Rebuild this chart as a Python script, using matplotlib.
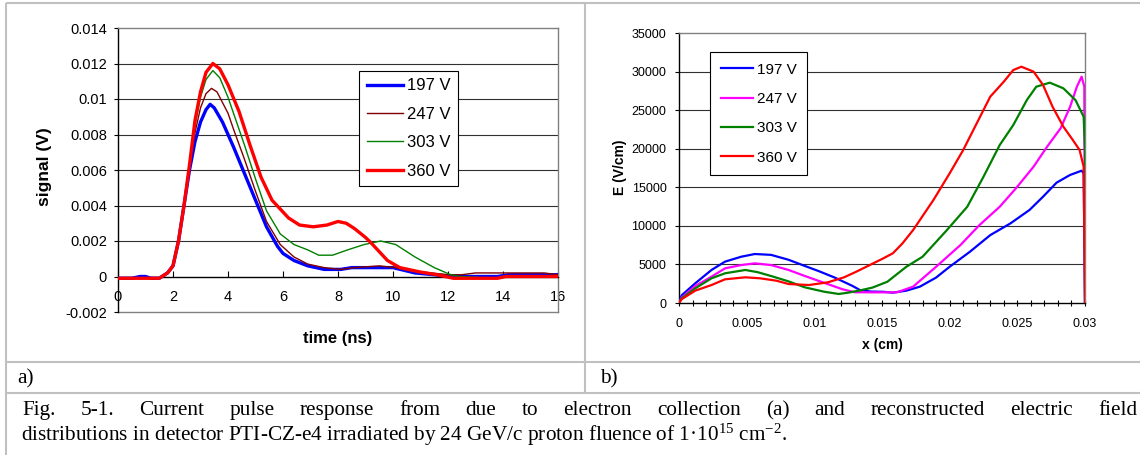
import matplotlib
matplotlib.use("Agg")
import matplotlib.pyplot as plt

plt.rcParams['font.family'] = ['Liberation Sans', 'DejaVu Sans']
plt.rcParams['mathtext.default'] = 'regular'

# ---------------- (a) current pulse response ----------------
series_a = ["197 V", "247 V", "303 V", "360 V"]

t_197 = [0, 0.5, 0.8, 1.0, 1.2, 1.5, 1.8, 2.0, 2.2, 2.4, 2.6, 2.8, 3.0, 3.2, 3.35,
         3.5, 3.8, 4.2, 4.6, 5.0, 5.4, 5.8, 6.0, 6.4, 6.9, 7.5, 8.1, 8.5, 9.5, 10.0,
         10.8, 11.5, 12.2, 13.8, 14.2, 16]
s_197 = [-0.0001, -0.0001, 0.0, 0.0, -0.0001, -0.0001, 0.0002, 0.0006, 0.0020, 0.0040,
         0.0060, 0.0076, 0.0087, 0.0094, 0.0097, 0.0095, 0.0087, 0.0073, 0.0058, 0.0043,
         0.0028, 0.0017, 0.0013, 0.0009, 0.0006, 0.0004, 0.0004, 0.0005, 0.0005, 0.0005,
         0.0002, 0.0001, 0.0, 0.0, 0.0001, 0.0001]

t_247 = [0, 1.5, 1.8, 2.0, 2.2, 2.4, 2.6, 2.8, 3.0, 3.2, 3.4, 3.6, 4.0, 4.2, 4.6, 5.0,
         5.4, 5.9, 6.4, 6.9, 7.5, 8.1, 8.6, 9.5, 10.1, 10.8, 11.4, 12.0, 12.5, 13.0,
         15.5, 16]
s_247 = [-0.0001, -0.0001, 0.0002, 0.0006, 0.0020, 0.0040, 0.0061, 0.0081, 0.0095, 0.0103,
         0.0106, 0.0104, 0.0092, 0.0083, 0.0066, 0.0048, 0.0031, 0.0018, 0.0011, 0.0007,
         0.0005, 0.0004, 0.0005, 0.0006, 0.0005, 0.0003, 0.0002, 0.0001, 0.0001, 0.0002,
         0.0002, 0.0001]

t_303 = [0, 1.5, 1.8, 2.0, 2.2, 2.4, 2.6, 2.8, 3.0, 3.2, 3.45, 3.7, 4.0, 4.2, 4.6, 5.0,
         5.4, 5.9, 6.4, 6.9, 7.3, 7.8, 8.35, 8.95, 9.55, 10.1, 10.8, 11.5, 12.1, 12.4,
         13.8, 14.1, 16]
s_303 = [-0.0001, -0.0001, 0.0002, 0.0006, 0.0020, 0.0040, 0.0062, 0.0085, 0.0101, 0.0111,
         0.0116, 0.0112, 0.0101, 0.0092, 0.0074, 0.0055, 0.0037, 0.0024, 0.0018, 0.0015,
         0.0012, 0.0012, 0.0015, 0.0018, 0.0020, 0.0018, 0.0011, 0.0005, 0.0001, 0.0,
         -0.0001, 0.0, 0.0]

t_360 = [0, 1.5, 1.8, 2.0, 2.2, 2.4, 2.6, 2.8, 3.0, 3.2, 3.45, 3.7, 4.0, 4.4, 4.8, 5.2,
         5.6, 5.9, 6.2, 6.6, 7.1, 7.6, 8.0, 8.3, 8.6, 9.0, 9.2, 9.5, 9.8, 10.25, 11.0,
         11.6, 12.2, 13.8, 14.1, 16]
s_360 = [-0.0001, -0.0001, 0.0002, 0.0006, 0.0020, 0.0040, 0.0063, 0.0088, 0.0104, 0.0115,
         0.0120, 0.0117, 0.0108, 0.0093, 0.0074, 0.0056, 0.0043, 0.0038, 0.0033, 0.0029,
         0.0028, 0.0029, 0.0031, 0.0030, 0.0027, 0.0022, 0.0019, 0.0014, 0.0009, 0.0005,
         0.00025, 0.0001, -0.0001, -0.0001, 0.0, 0.0]

a_xticks = [0, 2, 4, 6, 8, 10, 12, 14, 16]
a_yticks = [-0.002, 0, 0.002, 0.004, 0.006, 0.008, 0.01, 0.012, 0.014]
a_yticklabels = ["-0.002", "0", "0.002", "0.004", "0.006", "0.008", "0.01", "0.012", "0.014"]

# ---------------- (b) reconstructed electric field ----------------
series_b = ["197 V", "247 V", "303 V", "360 V"]

x_197 = [0, 0.0002, 0.0012, 0.0024, 0.0034, 0.0046, 0.0056, 0.0068, 0.0081, 0.0093,
         0.0103, 0.0115, 0.0128, 0.0134, 0.0142, 0.0151, 0.0158, 0.0168, 0.0178, 0.019,
         0.020, 0.0215, 0.023, 0.0245, 0.0259, 0.0269, 0.0279, 0.0289, 0.02975, 0.0299, 0.03]
e_197 = [0, 1000, 2550, 4280, 5360, 6000, 6350, 6240, 5600, 4800,
         4150, 3300, 2230, 1650, 1480, 1450, 1340, 1600, 2120, 3300,
         4700, 6650, 8800, 10330, 12060, 13780, 15600, 16600, 17150, 16800, 0]

x_247 = [0, 0.0002, 0.0012, 0.0024, 0.0034, 0.0046, 0.0056, 0.0068, 0.0081, 0.0093,
         0.0107, 0.0121, 0.013, 0.0145, 0.0161, 0.0173, 0.019, 0.0208, 0.0222, 0.0237,
         0.0249, 0.0262, 0.0272, 0.0282, 0.0289, 0.0294, 0.02975, 0.02995, 0.03]
e_247 = [0, 700, 2200, 3410, 4490, 4920, 5140, 4920, 4280, 3500,
         2630, 1770, 1390, 1380, 1380, 2120, 4700, 7520, 10100, 12480,
         14870, 17670, 20260, 22650, 25450, 28040, 29340, 28040, 0]

x_303 = [0, 0.0002, 0.0012, 0.0024, 0.0034, 0.0049, 0.0058, 0.0068, 0.0081, 0.0093,
         0.0107, 0.0118, 0.0125, 0.0134, 0.0143, 0.0154, 0.0168, 0.018, 0.0198, 0.0213,
         0.0225, 0.0237, 0.0247, 0.0257, 0.0264, 0.0274, 0.0284, 0.0293, 0.0299, 0.03, 0.03]
e_303 = [0, 600, 1900, 3200, 3850, 4280, 4000, 3500, 2800, 2030,
         1470, 1170, 1340, 1640, 2000, 2760, 4700, 6000, 9460, 12480,
         16370, 20480, 23070, 26300, 28040, 28560, 27830, 26300, 24150, 19830, 0]

x_360 = [0, 0.0002, 0.0012, 0.0024, 0.0034, 0.0049, 0.006, 0.0072, 0.0081, 0.0096,
         0.011, 0.0122, 0.0131, 0.0143, 0.0150, 0.0158, 0.0165, 0.0173, 0.0188, 0.020,
         0.021, 0.022, 0.023, 0.024, 0.0247, 0.0253, 0.0262, 0.0269, 0.0276, 0.0284,
         0.0291, 0.0296, 0.0299, 0.03]
e_360 = [0, 500, 1600, 2330, 3070, 3330, 3200, 2890, 2460, 2330,
         2680, 3330, 4060, 5100, 5700, 6440, 7700, 9460, 13350, 16810,
         19830, 23290, 26750, 28690, 30200, 30630, 29990, 28260, 25450, 22860,
         21130, 19830, 17670, 0]

b_xticks = [0, 0.005, 0.01, 0.015, 0.02, 0.025, 0.03]
b_xticklabels = ["0", "0.005", "0.01", "0.015", "0.02", "0.025", "0.03"]
b_yticks = [0, 5000, 10000, 15000, 20000, 25000, 30000, 35000]

caption_1 = ("Fig. 5-1. Current pulse response from due to electron collection (a) "
             "and reconstructed electric field")
caption_2 = ("distributions in detector PTI-CZ-e4 irradiated by 24 GeV/c proton "
             "fluence of 1·10$^{15}$ cm$^{-2}$.")

W, H = 1140, 455
fig = plt.figure(figsize=(W / 100, H / 100), dpi=100)

# page layer in pixel coordinates: table rules and caption
page = fig.add_axes([0, 0, 1, 1], zorder=-5)
page.set_xlim(0, W)
page.set_ylim(H, 0)
page.axis('off')
rule = dict(color='#c0c0c0', lw=1.5, solid_capstyle='butt')
page.plot([6, W], [3, 3], **rule)
page.plot([6, 6], [3, H], **rule)
page.plot([585, 585], [3, 393], **rule)
page.plot([6, W], [362, 362], **rule)
page.plot([6, W], [393, 393], **rule)

serif = dict(family=['Liberation Serif', 'DejaVu Serif'], fontsize=15.3, color='black')
page.text(17, 383, "a)", ha='left', va='baseline', **serif)
page.text(600, 383, "b)", ha='left', va='baseline', **serif)


def fig_rect(x0, y0, x1, y1):
    return [x0 / W, 1 - y1 / H, (x1 - x0) / W, (y1 - y0) / H]


# ---------- panel (a) ----------
axa = fig.add_axes(fig_rect(118, 28, 558, 312))
colors_a = ['#0000ff', '#800000', '#008000', '#ff0000']
widths_a = [2.4, 1.0, 1.0, 2.4]
for t, s, c, lw, lab in zip([t_197, t_247, t_303, t_360],
                            [s_197, s_247, s_303, s_360],
                            colors_a, widths_a, series_a):
    axa.plot(t, s, color=c, lw=lw, label=lab, solid_joinstyle='round', zorder=3)

axa.set_xlim(0, 16)
axa.set_ylim(-0.002, 0.014)
axa.set_xticks(a_xticks)
axa.set_xticklabels([str(v) for v in a_xticks])
axa.set_yticks(a_yticks)
axa.set_yticklabels(a_yticklabels)
for v in a_yticks[2:-1]:
    axa.axhline(v, color='#303030', lw=0.8, zorder=1)
axa.spines['bottom'].set_position(('data', 0))
axa.spines['bottom'].set_color('black')
axa.spines['left'].set_color('black')
axa.spines['top'].set_color('#808080')
axa.spines['right'].set_color('#808080')
for sp in axa.spines.values():
    sp.set_linewidth(1.0)
axa.plot([0, 1], [0, 0], transform=axa.transAxes, color='#808080', lw=1.0, clip_on=False)
axa.tick_params(axis='x', direction='in', length=4, width=0.8, pad=10, labelsize=10.5)
axa.tick_params(axis='y', direction='out', length=3, width=0.8, pad=5, labelsize=10.5)
axa.set_xlabel("time (ns)", fontsize=12, fontweight='bold')
axa.xaxis.label.set_verticalalignment('center')
axa.xaxis.set_label_coords(0.5, (312 - 338) / 284)
axa.set_ylabel("signal (V)", fontsize=12.5, fontweight='bold')
axa.yaxis.label.set_verticalalignment('center')
axa.yaxis.set_label_coords((45 - 118) / 440, (312 - 167) / 284)
lega = axa.legend(loc='upper left', bbox_to_anchor=(359 / W, 1 - 71 / H),
                  bbox_transform=fig.transFigure, borderaxespad=0, fancybox=False,
                  edgecolor='black', framealpha=1, fontsize=12, handlelength=2.2,
                  handletextpad=0.25, labelspacing=0.8, borderpad=0.45)
lega.get_frame().set_linewidth(0.8)

# ---------- panel (b) ----------
axb = fig.add_axes(fig_rect(679, 33, 1085, 303))
colors_b = ['#0000ff', '#ff00ff', '#008000', '#ff0000']
for x, e, c, lab in zip([x_197, x_247, x_303, x_360],
                        [e_197, e_247, e_303, e_360], colors_b, series_b):
    axb.plot(x, e, color=c, lw=1.6, label=lab, solid_joinstyle='round', zorder=3)

axb.set_xlim(0, 0.03)
axb.set_ylim(0, 35000)
axb.set_xticks(b_xticks)
axb.set_xticklabels(b_xticklabels)
axb.set_xticks([i * 0.001 for i in range(31)], minor=True)
axb.set_yticks(b_yticks)
axb.set_yticklabels([str(v) for v in b_yticks])
for v in b_yticks[1:-1]:
    axb.axhline(v, color='#303030', lw=0.8, zorder=1)
axb.spines['bottom'].set_color('black')
axb.spines['left'].set_color('black')
axb.spines['top'].set_color('#808080')
axb.spines['right'].set_color('#808080')
for sp in axb.spines.values():
    sp.set_linewidth(1.0)
axb.tick_params(axis='x', which='both', direction='inout', length=5, width=0.8,
                pad=8, labelsize=9)
axb.tick_params(axis='y', direction='out', length=3, width=0.8, pad=6, labelsize=9)
axb.set_xlabel("x (cm)", fontsize=10, fontweight='bold')
axb.xaxis.label.set_verticalalignment('center')
axb.xaxis.set_label_coords(0.5, (303 - 345) / 270)
axb.set_ylabel("E (V/cm)", fontsize=10, fontweight='bold')
axb.yaxis.label.set_verticalalignment('center')
axb.yaxis.set_label_coords((620 - 679) / 406, (303 - 167) / 270)
legb = axb.legend(loc='upper left', bbox_to_anchor=(710 / W, 1 - 52 / H),
                  bbox_transform=fig.transFigure, borderaxespad=0, fancybox=False,
                  edgecolor='black', framealpha=1, fontsize=11, handlelength=2.1,
                  handletextpad=0.25, labelspacing=1.0, borderpad=0.7)
legb.get_frame().set_linewidth(0.8)

# ---------- caption, first line justified ----------
renderer = fig.canvas.get_renderer()
words = caption_1.split()
texts = [page.text(0, 415, w, ha='left', va='baseline', **serif) for w in words]
widths = [t.get_window_extent(renderer).width for t in texts]
left, right = 22, 1137
gap = (right - left - sum(widths)) / (len(words) - 1)
xpos = left
for t, w in zip(texts, widths):
    t.set_x(xpos)
    xpos += w + gap
page.text(21, 441, caption_2, ha='left', va='baseline', **serif)

fig.savefig("out.png", dpi=100)
